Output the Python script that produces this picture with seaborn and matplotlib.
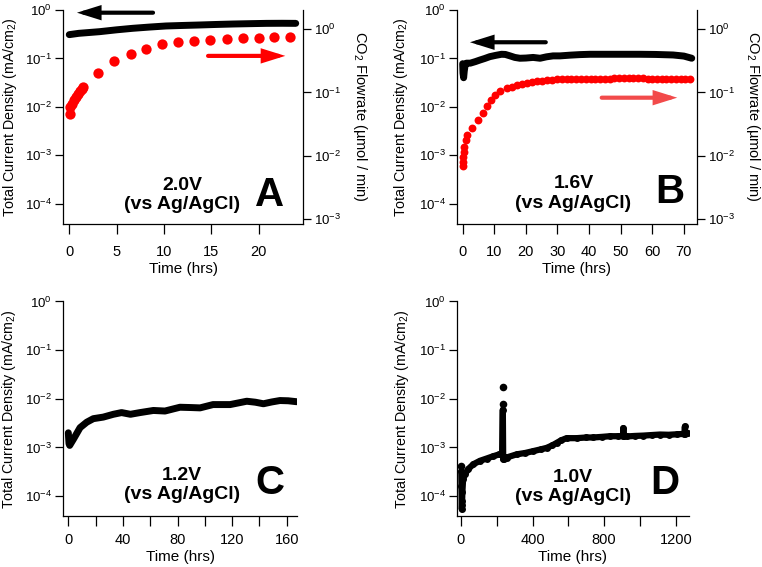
import numpy as np
import matplotlib
matplotlib.use("Agg")
import matplotlib.pyplot as plt
import seaborn as sns
from matplotlib.ticker import FixedLocator, FuncFormatter, NullLocator

# ---- values ----
# panel A (2.0 V)
a_time = [0, 1, 3.2, 5, 6.7, 8.5, 10.2, 12, 13.8, 15.5, 17.3, 19, 20.8, 22.5, 23.9]
a_current = [0.31, 0.33, 0.357, 0.39, 0.419, 0.445, 0.468, 0.48, 0.491, 0.503, 0.514, 0.522, 0.53, 0.532, 0.53]
a_co2_time = [0.05, 0.1, 0.3, 0.5, 0.7, 0.9, 1.1, 1.3, 1.5, 3.05, 4.74, 6.5, 8.07, 9.82,
              11.5, 13.2, 14.9, 16.6, 18.3, 20.0, 21.6, 23.3]
a_co2 = [0.045, 0.060, 0.066, 0.077, 0.085, 0.095, 0.104, 0.113, 0.122, 0.203, 0.309, 0.408,
         0.49, 0.58, 0.62, 0.65, 0.68, 0.70, 0.71, 0.73, 0.74, 0.76]

# panel B (1.6 V)
b_time = [0, 0.1, 0.3, 0.5, 0.8, 1.2, 2.4, 4, 5.5, 7, 8.6, 10.5, 12.3, 13.5, 15, 16.5, 18.1,
          20, 22.3, 24.5, 26.5, 28.6, 30.8, 34, 37, 40.3, 45, 50, 56, 61, 66.6, 70, 72.5]
b_current = [0.078, 0.05, 0.04, 0.055, 0.075, 0.08, 0.080, 0.086, 0.093, 0.10, 0.109, 0.116,
             0.122, 0.121, 0.113, 0.105, 0.101, 0.102, 0.105, 0.101, 0.108, 0.113, 0.113,
             0.117, 0.12, 0.122, 0.122, 0.122, 0.122, 0.121, 0.118, 0.112, 0.101]
b_co2_time = [0.05, 0.1, 0.2, 0.3, 0.5, 0.9, 1.3, 3.0, 4.75, 6.3, 7.85, 8.9, 10.2, 11.8,
              13.9, 15.5, 17.1, 18.7, 20.3, 21.9, 23.4, 25.0, 26.6, 28.2, 29.7, 31.3, 32.9, 34.4,
              36.0, 37.5, 39.0, 40.5, 42.0, 43.5, 45.0, 46.5, 48.0, 49.5, 51.0, 52.5, 54.0,
              55.5, 57.0, 58.5, 60.0, 61.5, 63.0, 64.5, 66.0, 67.5, 69.0, 70.5, 72.0]
b_co2 = [0.00685, 0.0080, 0.0096, 0.0115, 0.0138, 0.0176, 0.0212, 0.0276, 0.0365, 0.048,
         0.0608, 0.0755, 0.0906, 0.106,
         0.116, 0.123, 0.130, 0.136, 0.142, 0.147, 0.151, 0.154, 0.156, 0.159, 0.161, 0.163,
         0.164, 0.165,
         0.162, 0.163, 0.163, 0.164, 0.164, 0.165, 0.165, 0.165, 0.166, 0.166, 0.166, 0.166,
         0.166, 0.166, 0.166, 0.165, 0.165, 0.165, 0.164, 0.164, 0.163, 0.163, 0.162, 0.161,
         0.160]

# panel C (1.2 V)
c_time = [0, 0.2, 0.5, 1.0, 1.8, 3.7, 8.6, 13.5, 18.3, 25.6, 33, 39, 45.5, 52.5, 62.3, 70.8,
          77, 81.8, 90, 96.5, 106, 118.5, 130.7, 137, 142.9, 149, 155, 161, 167.3]
c_current = [2.0e-3, 1.6e-3, 1.2e-3, 1.1e-3, 1.2e-3, 1.47e-3, 2.55e-3, 3.3e-3, 3.9e-3, 4.2e-3,
             4.8e-3, 5.2e-3, 4.8e-3, 5.2e-3, 5.75e-3, 5.6e-3, 6.2e-3, 6.7e-3, 6.6e-3, 6.5e-3,
             7.6e-3, 7.6e-3, 8.9e-3, 8.5e-3, 7.9e-3, 8.6e-3, 9.2e-3, 9.1e-3, 8.7e-3]

# panel D (1.0 V)
d_time = [2, 3, 4, 5, 6, 8, 12, 22, 41, 69, 106, 143, 181, 214, 230, 234, 236, 238, 255, 311,
          360, 404, 450, 479, 510, 535, 560, 590, 646, 700, 739, 790, 832, 880, 905, 907, 910,
          926, 970, 1019, 1070, 1112, 1160, 1205, 1248, 1251, 1254, 1270]
d_current = [3.2e-4, 1.6e-4, 8e-5, 5.3e-5, 6.5e-5, 1.2e-4, 2.2e-4, 2.8e-4, 3.6e-4, 4.5e-4,
             5.3e-4, 5.9e-4, 6.6e-4, 7.2e-4, 7.4e-4, 6.0e-3, 5.8e-4, 5.7e-4, 6.2e-4, 7.2e-4,
             7.7e-4, 8.4e-4, 9.2e-4, 9.8e-4, 1.1e-3, 1.24e-3, 1.4e-3, 1.55e-3, 1.55e-3, 1.6e-3,
             1.6e-3, 1.65e-3, 1.7e-3, 1.7e-3, 1.7e-3, 2.5e-3, 1.7e-3, 1.68e-3, 1.72e-3, 1.75e-3,
             1.8e-3, 1.84e-3, 1.82e-3, 1.86e-3, 1.9e-3, 2.7e-3, 1.9e-3, 1.95e-3]
d_spike_time = [0, 236, 236]
d_spike_current = [4.2e-4, 7.8e-3, 1.73e-2]

current_decades = [1e-4, 1e-3, 1e-2, 1e-1, 1e0]
flow_decades = [1e-3, 1e-2, 1e-1, 1e0]

sns.set_theme(style="ticks", rc={"axes.edgecolor": "black", "xtick.color": "black",
                                 "ytick.color": "black", "axes.labelcolor": "black",
                                 "text.color": "black"})
plt.rcParams["font.family"] = ["Liberation Sans", "DejaVu Sans"]
plt.rcParams["mathtext.fontset"] = "custom"
plt.rcParams["mathtext.rm"] = "Liberation Sans"
plt.rcParams["mathtext.it"] = "Liberation Sans:italic"
plt.rcParams["mathtext.bf"] = "Liberation Sans:bold"

W, H = 762, 567
fig = plt.figure(figsize=(W / 100, H / 100), dpi=100)


def add_box(left, top, right, bottom):
    # pixel box -> figure fraction
    return fig.add_axes([left / W, 1 - bottom / H, (right - left) / W, (bottom - top) / H])


decade_fmt = FuncFormatter(lambda v, _: r"$10^{%d}$" % int(round(np.log10(v))))


def style(ax, xlim, xmajor, xminor=None, xlabel_y=-0.2, ylabel_x=-0.23, xpad=8.5):
    ax.set_yscale("log")
    ax.set_ylim(10 ** -4.41, 1)
    ax.yaxis.set_major_locator(FixedLocator(current_decades))
    ax.yaxis.set_major_formatter(decade_fmt)
    ax.yaxis.set_minor_locator(NullLocator())
    ax.set_xlim(*xlim)
    ax.xaxis.set_major_locator(FixedLocator(xmajor))
    if xminor is not None:
        ax.xaxis.set_minor_locator(FixedLocator(xminor))
    ax.spines["top"].set_visible(False)
    ax.spines["right"].set_visible(False)
    for s in ax.spines.values():
        s.set_linewidth(0.9)
    ax.tick_params(which="both", direction="out", length=6, width=0.9, labelsize=9.5, pad=2)
    ax.tick_params(axis="x", which="both", length=7, pad=xpad, labelsize=10.5)
    ax.set_xlabel("Time (hrs)", fontsize=11)
    ax.xaxis.label.set_va("center")
    ax.xaxis.set_label_coords(0.5, xlabel_y)
    ax.set_ylabel("Total Current Density (mA/cm$_2$)", fontsize=10.3)
    ax.yaxis.label.set_va("center")
    ax.yaxis.set_label_coords(ylabel_x, 0.5)


def flow_axis(ax, xoff):
    ax2 = ax.twinx()
    ax2.set_yscale("log")
    ax2.set_ylim(10 ** -3.07, 10 ** 0.30)
    ax2.yaxis.set_major_locator(FixedLocator(flow_decades))
    ax2.yaxis.set_major_formatter(decade_fmt)
    ax2.yaxis.set_minor_locator(NullLocator())
    for side in ["top", "left", "bottom"]:
        ax2.spines[side].set_visible(False)
    ax2.spines["right"].set_linewidth(0.9)
    ax2.tick_params(direction="out", length=6, width=0.9, labelsize=9.5, pad=2)
    ax2.set_ylabel("CO$_2$ Flowrate (µmol / min)", fontsize=10.5, rotation=270)
    ax2.yaxis.label.set_va("center")
    ax2.yaxis.set_label_coords(xoff, 0.5)
    return ax2


def arrow(ax, tail, head, color):
    ax.annotate("", xy=head, xytext=tail,
                arrowprops=dict(arrowstyle="-|>,head_length=0.8,head_width=0.25",
                                mutation_scale=14, lw=3, color=color,
                                shrinkA=0, shrinkB=0, joinstyle="miter"))


def panel_text(ax, volt, letter, vx, vy, lx, ly):
    ax.text(vx, vy, volt + "\n(vs Ag/AgCl)", transform=ax.transAxes, ha="center", va="center",
            fontsize=14, fontweight="bold", linespacing=1.2)
    ax.text(lx, ly, letter, transform=ax.transAxes, ha="center", va="center",
            fontsize=29, fontweight="bold")


# ---- A ----
axA = add_box(63.3, 10, 303.3, 223.7)
style(axA, (-0.63, 24.7), [0, 5, 10, 15, 20], xlabel_y=-0.212, ylabel_x=-0.224)
sns.lineplot(x=a_time, y=a_current, ax=axA, color="black", lw=5, sort=False,
             estimator=None, legend=False, solid_capstyle="round")
axA2 = flow_axis(axA, 1.236)
sns.scatterplot(x=a_co2_time, y=a_co2, ax=axA2, color="red", s=55, linewidth=0,
                legend=False, clip_on=False)
arrow(axA, (8.84, 0.88), (0.81, 0.88), "black")
arrow(axA, (14.65, 0.113), (22.8, 0.113), "red")
panel_text(axA, "2.0V", "A", 0.495, 0.135, 0.861, 0.134)

# ---- B ----
axB = add_box(457, 10, 696.5, 223.7)
style(axB, (-1.8, 74.0), [0, 10, 20, 30, 40, 50, 60, 70], xlabel_y=-0.212, ylabel_x=-0.232)
sns.lineplot(x=b_time, y=b_current, ax=axB, color="black", lw=5, sort=False,
             estimator=None, legend=False, solid_capstyle="round")
axB2 = flow_axis(axB, 1.236)
sns.scatterplot(x=b_co2_time, y=b_co2, ax=axB2, color="red", s=32, linewidth=0,
                legend=False, clip_on=False)
arrow(axB, (26.3, 0.216), (2.3, 0.216), "black")
arrow(axB, (44.0, 0.0155), (67.9, 0.0155), "#f24a4a")
panel_text(axB, "1.6V", "B", 0.486, 0.14, 0.889, 0.149)

# ---- C ----
axC = add_box(63, 301.5, 297, 516)
style(axC, (-3.9, 167.5), [0, 40, 80, 120, 160], [20, 60, 100, 140],
      xlabel_y=-0.19, ylabel_x=-0.231, xpad=5.5)
sns.lineplot(x=c_time, y=c_current, ax=axC, color="black", lw=5, sort=False,
             estimator=None, legend=False, solid_capstyle="round")
panel_text(axC, "1.2V", "C", 0.507, 0.145, 0.885, 0.152)

# ---- D ----
axD = add_box(457, 301.5, 689, 516)
style(axD, (-22, 1274), [0, 400, 800, 1200], [200, 600, 1000],
      xlabel_y=-0.19, ylabel_x=-0.238, xpad=5.5)
sns.lineplot(x=d_time, y=d_current, ax=axD, color="black", lw=4.5, sort=False,
             estimator=None, legend=False, marker="o", markersize=5, markeredgewidth=0)
sns.scatterplot(x=d_spike_time, y=d_spike_current, ax=axD, color="black", s=30,
                linewidth=0, legend=False)
panel_text(axD, "1.0V", "D", 0.501, 0.136, 0.897, 0.152)

fig.savefig("out.png", dpi=100)
